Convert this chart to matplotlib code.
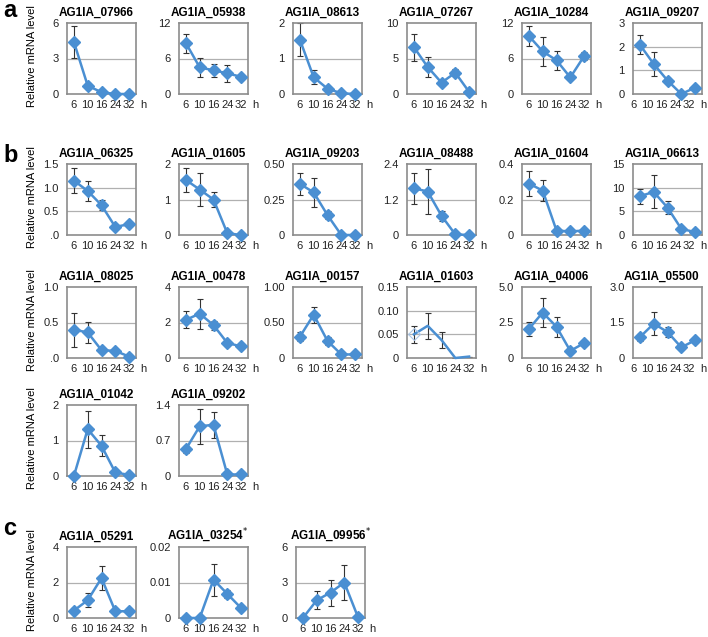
import matplotlib
matplotlib.use('Agg')
import matplotlib.pyplot as plt
import matplotlib.transforms as mtransforms
import numpy as np

plt.rcParams['font.family'] = ['Liberation Sans', 'DejaVu Sans']

hours = ['6', '10', '16', '24', '32']

# section a
genes_a = ['AG1IA_07966', 'AG1IA_05938', 'AG1IA_08613', 'AG1IA_07267', 'AG1IA_10284', 'AG1IA_09207']
means_a = [[4.4, 0.7, 0.15, 0.0, 0.0],
           [8.6, 4.5, 4.0, 3.5, 2.9],
           [1.53, 0.47, 0.15, 0.02, 0.0],
           [6.6, 3.8, 1.6, 3.0, 0.3],
           [9.8, 7.2, 5.7, 2.8, 6.4],
           [2.08, 1.27, 0.57, 0.0, 0.27]]
errs_a = [[1.35, 0.25, 0.0, 0.0, 0.0],
          [1.6, 1.6, 1.1, 1.4, 0.3],
          [0.47, 0.2, 0.03, 0.0, 0.0],
          [1.9, 1.4, 0.2, 0.5, 0.1],
          [1.7, 2.5, 1.6, 0.3, 0.7],
          [0.4, 0.5, 0.12, 0.0, 0.05]]
yticks_a = [[0, 3, 6], [0, 6, 12], [0, 1, 2], [0, 5, 10], [0, 6, 12], [0, 1, 2, 3]]
ylabels_a = [['0', '3', '6'], ['0', '6', '12'], ['0', '1', '2'], ['0', '5', '10'],
             ['0', '6', '12'], ['0', '1', '2', '3']]

# section b
genes_b = ['AG1IA_06325', 'AG1IA_01605', 'AG1IA_09203', 'AG1IA_08488', 'AG1IA_01604', 'AG1IA_06613',
           'AG1IA_08025', 'AG1IA_00478', 'AG1IA_00157', 'AG1IA_01603', 'AG1IA_04006', 'AG1IA_05500',
           'AG1IA_01042', 'AG1IA_09202']
means_b = [[1.15, 0.93, 0.63, 0.17, 0.23],
           [1.55, 1.28, 1.0, 0.05, 0.0],
           [0.36, 0.30, 0.14, 0.0, 0.0],
           [1.58, 1.47, 0.65, 0.02, 0.0],
           [0.29, 0.25, 0.025, 0.02, 0.025],
           [8.2, 9.1, 5.8, 1.3, 0.6],
           [0.40, 0.36, 0.11, 0.10, 0.02],
           [2.15, 2.5, 1.85, 0.85, 0.65],
           [0.30, 0.61, 0.24, 0.05, 0.05],
           [0.05, 0.068, 0.038, 0.0, 0.003],
           [2.05, 3.2, 2.2, 0.5, 1.05],
           [0.88, 1.45, 1.1, 0.45, 0.75],
           [0.0, 1.32, 0.85, 0.1, 0.03],
           [0.53, 0.98, 1.01, 0.03, 0.03]]
errs_b = [[0.26, 0.22, 0.1, 0.03, 0.03],
          [0.33, 0.47, 0.22, 0.0, 0.0],
          [0.08, 0.1, 0.03, 0.0, 0.0],
          [0.52, 0.75, 0.17, 0.0, 0.0],
          [0.07, 0.06, 0.0, 0.0, 0.0],
          [1.6, 3.5, 1.3, 0.3, 0.2],
          [0.24, 0.15, 0.02, 0.02, 0.01],
          [0.47, 0.85, 0.25, 0.15, 0.1],
          [0.06, 0.11, 0.05, 0.01, 0.01],
          [0.018, 0.028, 0.016, 0.0, 0.0],
          [0.5, 1.05, 0.7, 0.1, 0.15],
          [0.15, 0.48, 0.22, 0.07, 0.1],
          [0.0, 0.52, 0.3, 0.03, 0.01],
          [0.07, 0.35, 0.26, 0.0, 0.0]]
yticks_b = [[0, 0.5, 1.0, 1.5], [0, 1, 2], [0, 0.25, 0.5], [0, 1.2, 2.4], [0, 0.2, 0.4], [0, 5, 10, 15],
            [0, 0.5, 1.0], [0, 2, 4], [0, 0.5, 1.0], [0, 0.05, 0.10, 0.15], [0, 2.5, 5.0], [0, 1.5, 3.0],
            [0, 1, 2], [0, 0.7, 1.4]]
ylabels_b = [['.0', '0.5', '1.0', '1.5'], ['0', '1', '2'], ['0', '0.25', '0.50'], ['0', '1.2', '2.4'],
             ['0', '0.2', '0.4'], ['0', '5', '10', '15'],
             ['.0', '0.5', '1.0'], ['0', '2', '4'], ['0', '0.50', '1.00'], ['0', '0.05', '0.10', '0.15'],
             ['0', '2.5', '5.0'], ['0', '1.5', '3.0'],
             ['0', '1', '2'], ['0', '0.7', '1.4']]

# section c
genes_c = ['AG1IA_05291', 'AG1IA_03254$^{*}$', 'AG1IA_09956$^{*}$']
means_c = [[0.42, 1.0, 2.25, 0.38, 0.38],
           [0.0, 0.0, 0.0108, 0.0068, 0.0028],
           [0.0, 1.5, 2.15, 3.0, 0.05]]
errs_c = [[0.12, 0.4, 0.68, 0.05, 0.05],
          [0.0, 0.0, 0.0045, 0.0012, 0.0004],
          [0.0, 0.75, 1.1, 1.5, 0.0]]
yticks_c = [[0, 2, 4], [0, 0.01, 0.02], [0, 3, 6]]
ylabels_c = [['0', '2', '4'], ['0', '0.01', '0.02'], ['0', '3', '6']]

W, H = 708, 637
BLUE = '#4a8fd2'
cols = [67, 179, 293, 407, 522, 633]
aw, ah = 69, 71

fig = plt.figure(figsize=(W / 100, H / 100), dpi=100)


def panel(left, top, name, mean, err, ticks, labels, last_col=False, markers=True, tx=0.42):
    ax = fig.add_axes([left / W, 1 - (top + ah) / H, aw / W, ah / H])
    x = np.arange(1, 6)
    ax.errorbar(x, mean, yerr=err, fmt='none', ecolor='#333333', elinewidth=0.8,
                capsize=2.5, capthick=0.8, zorder=2)
    if markers:
        ax.plot(x, mean, color=BLUE, lw=1.8, marker='D', ms=6, zorder=3, clip_on=False)
    else:
        ax.plot(x, mean, color=BLUE, lw=1.8, zorder=3, clip_on=False)
        ax.plot(x[:1], mean[:1], ls='none', marker='D', ms=6, mfc='none', mec='#a9c6e8', mew=0.8, zorder=3)
    ax.set_xlim(0.5, 5.5)
    ax.set_ylim(ticks[0], ticks[-1])
    ax.set_yticks(ticks)
    ax.set_yticklabels(labels)
    ax.set_xticks(x)
    ax.set_xticklabels(hours)
    ax.tick_params(axis='both', length=0, labelsize=8, colors='#222222')
    ax.tick_params(axis='x', pad=4)
    ax.tick_params(axis='y', pad=6)
    for t in ticks[1:-1]:
        ax.axhline(t, color='#b0b0b0', lw=0.9, zorder=1)
    for s in ax.spines.values():
        s.set_color('#8c8c8c')
        s.set_linewidth(1.2)
    hx = 3
    if last_col:
        shift = mtransforms.ScaledTranslation(-6 / 100, 0, fig.dpi_scale_trans)
        for lab in ax.get_xticklabels():
            lab.set_transform(lab.get_transform() + shift)
        hx = -1.5
    ax.annotate('h', xy=(1, 0), xycoords='axes fraction', xytext=(hx, -4),
                textcoords='offset points', ha='left', va='top', fontsize=8, color='#222222')
    ax.set_title(name, fontsize=8.5, fontweight='bold', pad=5, x=tx)
    return ax


def ylab(top):
    fig.text(32 / W, 1 - (top + ah / 2 - 2) / H, 'Relative mRNA level', rotation=90,
             ha='center', va='center', fontsize=8)


# section a
top_a = 23
for i in range(6):
    panel(cols[i], top_a, genes_a[i], means_a[i], errs_a[i], yticks_a[i], ylabels_a[i], last_col=(i == 5))
ylab(top_a)
fig.text(3 / W, 1 - 17 / H, 'a', fontsize=17, fontweight='bold', va='baseline')

# section b
tops_b = [164, 287, 405]
for i in range(14):
    r, c = divmod(i, 6)
    panel(cols[c], tops_b[r], genes_b[i], means_b[i], errs_b[i], yticks_b[i], ylabels_b[i],
          last_col=(c == 5), markers=(genes_b[i] != 'AG1IA_01603'))
for t in tops_b:
    ylab(t)
fig.text(3 / W, 1 - 162 / H, 'b', fontsize=17, fontweight='bold', va='baseline')

# section c
top_c = 547
cols_c = [67, 179, 296]
title_x_c = [0.42, 0.42, 0.5]
for i in range(3):
    panel(cols_c[i], top_c, genes_c[i], means_c[i], errs_c[i], yticks_c[i], ylabels_c[i], tx=title_x_c[i])
ylab(top_c)
fig.text(3 / W, 1 - 535 / H, 'c', fontsize=17, fontweight='bold', va='baseline')

fig.savefig('out.png', dpi=100)
